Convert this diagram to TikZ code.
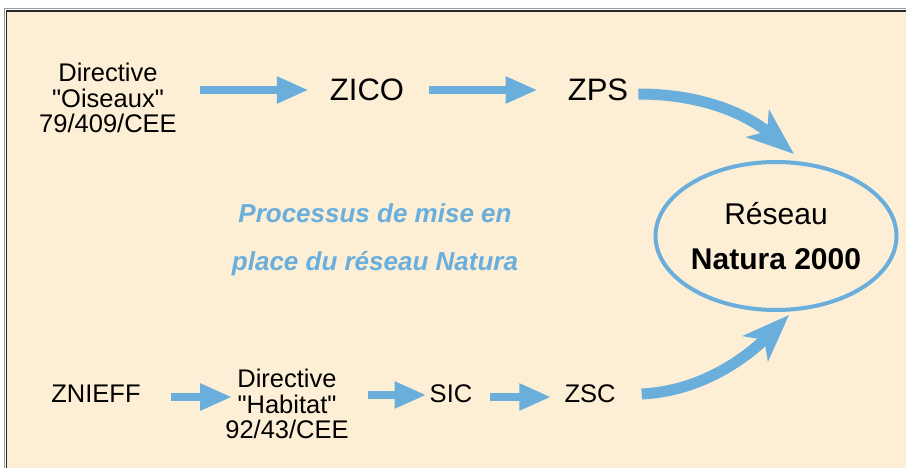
\documentclass[tikz,border=0pt]{standalone}
\usepackage{fontspec}
\setmainfont{Liberation Sans}
\usetikzlibrary{arrows.meta,shapes.geometric}
\definecolor{paper}{RGB}{253,238,214}
\definecolor{natblue}{RGB}{106,174,220}
\tikzstyle{term}=[inner sep=0pt, align=center, font=\fontsize{25.5}{25.5}\selectfont]
\tikzstyle{bigterm}=[term, font=\fontsize{31}{31}\selectfont]
\tikzstyle{title}=[inner sep=0pt, align=center, text=natblue, font=\fontsize{26}{48}\selectfont\bfseries\itshape]
\tikzstyle{reseau}=[ellipse, draw=natblue, line width=4pt, inner sep=0pt, align=center,
  minimum width=241pt, minimum height=148pt, font=\fontsize{30}{45}\selectfont]
\tikzstyle{flow}=[draw=natblue, line width=8pt, -{Triangle[length=32pt,width=25pt]}]
\tikzstyle{bigflow}=[draw=natblue, line width=11pt, -{Stealth[length=47pt,width=35pt,inset=12pt]}]
\newcommand{\term}{\node[term]}
\newcommand{\qt}[1]{\textquotedbl#1\textquotedbl}

\begin{document}
\begin{tikzpicture}[x=1pt, y=-1pt
  ,every edge/.style={flow}
]
\useasboundingbox (0,0) rectangle (906,468);
\fill[paper] (6.5,11) rectangle (906,468);
\draw[black!40, line width=1pt] (4.5,468) -- (4.5,9) -- (906,9);
\draw[black!85, line width=1.3pt] (6.5,468) -- (6.5,11) -- (906,11);

% Directive Oiseaux
\term (dirOis) at (108,98) {Directive\\\qt{Oiseaux}\\79/409/CEE};
\node[bigterm] (zico) at (367,90) {ZICO};
\node[bigterm] (zps) at (598,90) {ZPS};

% Directive Habitat
\term (znieff) at (96,394) {ZNIEFF};
\term (dirHab) at (287,404) {Directive\\\qt{Habitat}\\92/43/CEE};
\term (sic) at (451,394) {SIC};
\term (zsc) at (590,394) {ZSC};

\node[reseau] (natura) at (776,236) {R\'eseau\\\textbf{Natura 2000}};
\node[title] (process) at (375,240) {Processus de mise en\\place du r\'eseau Natura};

\path
(dirOis.east |- zico) edge[shorten <=23pt, shorten >=21pt] (zico)
(zico) edge[shorten <=25pt, shorten >=30pt] (zps)
([yshift=-3pt]znieff.east) edge[shorten <=30pt, shorten >=-7pt] ([yshift=-3pt]dirHab.west |- znieff.east)
([yshift=-1pt]dirHab.east |- sic.west) edge[shorten <=19pt, shorten >=3pt] ([yshift=-1pt]sic.west)
([yshift=-3pt]sic.east) edge[shorten <=18pt, shorten >=13pt] ([yshift=-3pt]zsc.west)
;
\draw[bigflow] ([shift={(10pt,-4pt)}]zps.east) .. controls +(60,0) and +(-50,-42) .. ([shift={(18pt,6pt)}]natura.north);
\draw[bigflow] ([xshift=26pt]zsc.east) .. controls +(63,-3) and +(-39,39) .. ([shift={(13pt,-3pt)}]natura.south);
\end{tikzpicture}
\end{document}
